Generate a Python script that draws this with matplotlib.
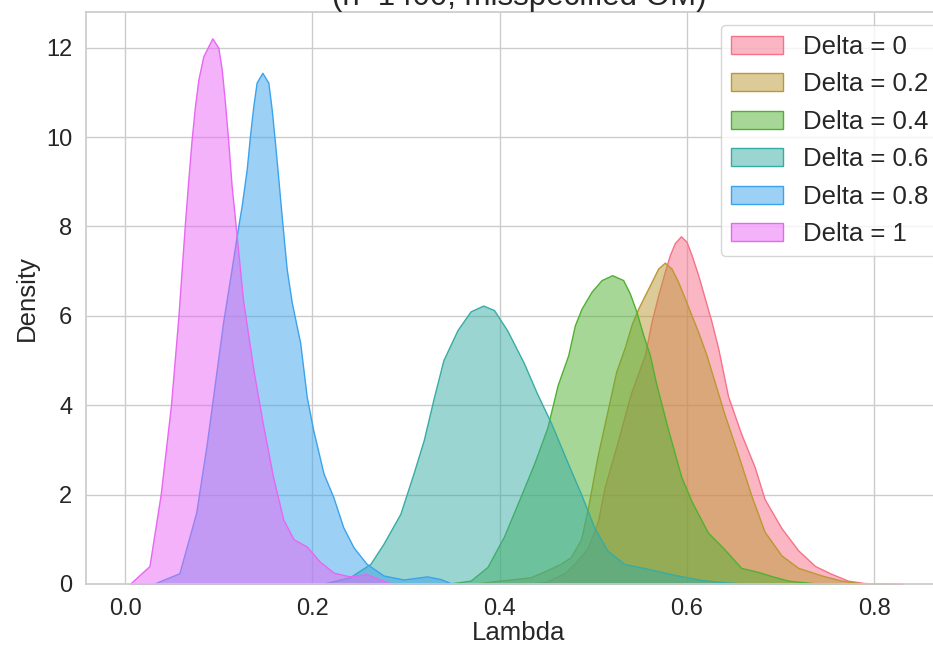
import matplotlib
matplotlib.use('Agg')
import matplotlib.pyplot as plt
from matplotlib.patches import Patch
import seaborn as sns

sns.set_theme(style='whitegrid')
plt.rcParams['font.family'] = ['Liberation Sans', 'DejaVu Sans']

# wartosci
delty = ['0', '0.2', '0.4', '0.6', '0.8', '1']

lam_d0 = [0.43, 0.45, 0.47, 0.48, 0.494, 0.505, 0.512, 0.525, 0.54, 0.5551, 0.5623,
          0.5694, 0.5765, 0.5818, 0.5872, 0.5936, 0.5996, 0.605, 0.6121, 0.6192, 0.6263,
          0.6335, 0.644, 0.658, 0.6725, 0.683, 0.701, 0.719, 0.737, 0.754, 0.772,
          0.79, 0.81, 0.83]
gest_d0 = [0, 0.05, 0.25, 0.45, 0.8, 1.4, 2.15, 3.1, 4.25, 5.12, 5.87,
           6.46, 6.99, 7.36, 7.63, 7.78, 7.66, 7.36, 6.91, 6.39, 5.87,
           5.27, 4.2, 3.36, 2.61, 1.9, 1.25, 0.75, 0.4, 0.23, 0.075,
           0.02, 0.01, 0]

lam_d02 = [0.37, 0.386, 0.40, 0.416, 0.433, 0.45, 0.465, 0.476, 0.487, 0.4945, 0.5045,
           0.515, 0.5245, 0.5338, 0.5409, 0.548, 0.5551, 0.5623, 0.5694, 0.5765, 0.5836,
           0.5907, 0.5979, 0.605, 0.6121, 0.621, 0.630, 0.640, 0.6545, 0.669, 0.683,
           0.701, 0.719, 0.744, 0.765, 0.786, 0.81]
gest_d02 = [0, 0.04, 0.075, 0.11, 0.15, 0.3, 0.45, 0.6, 1.0, 1.72, 2.85,
            3.85, 4.75, 5.3, 5.8, 6.16, 6.46, 6.76, 7.06, 7.19, 7.06,
            6.76, 6.39, 6.01, 5.64, 5.12, 4.5, 3.81, 2.91, 1.97, 1.17,
            0.64, 0.36, 0.19, 0.075, 0.015, 0]

lam_d04 = [0.33, 0.35, 0.369, 0.387, 0.4046, 0.4225, 0.437, 0.451, 0.462, 0.4733, 0.4804,
           0.4875, 0.4982, 0.5089, 0.5203, 0.532, 0.5391, 0.5462, 0.5534, 0.5605, 0.567,
           0.580, 0.594, 0.605, 0.6225, 0.640, 0.658, 0.676, 0.690, 0.708, 0.7365, 0.76]
gest_d04 = [0, 0.02, 0.075, 0.38, 1.06, 1.96, 2.7, 3.5, 4.45, 5.12, 5.79,
            6.16, 6.54, 6.80, 6.91, 6.80, 6.50, 6.09, 5.57, 5.12, 4.5,
            3.45, 2.4, 1.85, 1.15, 0.78, 0.36, 0.27, 0.18, 0.075, 0.015, 0]

lam_d06 = [0.21, 0.24, 0.262, 0.276, 0.294, 0.308, 0.319, 0.330, 0.340, 0.355, 0.369,
           0.3825, 0.394, 0.408, 0.426, 0.440, 0.455, 0.4725, 0.487, 0.501, 0.515,
           0.533, 0.558, 0.583, 0.60, 0.615, 0.633, 0.66, 0.68]
gest_d06 = [0, 0.15, 0.45, 0.9, 1.57, 2.47, 3.22, 4.19, 5.01, 5.68, 6.10,
            6.23, 6.13, 5.68, 4.94, 4.26, 3.6, 2.72, 2.01, 1.27, 0.75,
            0.45, 0.34, 0.22, 0.15, 0.09, 0.05, 0.01, 0]

lam_d08 = [0.03, 0.058, 0.076, 0.087, 0.096, 0.105, 0.1138, 0.1192, 0.1245, 0.1299, 0.1334,
           0.137, 0.1405, 0.1466, 0.153, 0.1566, 0.1601, 0.1637, 0.1672, 0.1726, 0.178,
           0.187, 0.194, 0.201, 0.212, 0.2225, 0.233, 0.244, 0.258, 0.276, 0.2975,
           0.3225, 0.337, 0.3475, 0.36]
gest_d08 = [0, 0.24, 1.6, 3.1, 4.5, 5.9, 7.05, 7.79, 8.46, 9.28, 10.03,
            10.70, 11.22, 11.44, 11.22, 10.62, 9.88, 9.06, 8.24, 7.05, 6.3,
            5.4, 4.19, 3.44, 2.47, 1.94, 1.27, 0.82, 0.45, 0.19, 0.10,
            0.17, 0.11, 0.02, 0]

lam_d1 = [0.005, 0.026, 0.038, 0.049, 0.057, 0.0605, 0.064, 0.0676, 0.0711, 0.0747, 0.0783,
          0.0836, 0.0932, 0.0996, 0.1032, 0.1067, 0.1103, 0.1138, 0.1185, 0.1227, 0.126,
          0.137, 0.147, 0.158, 0.169, 0.180, 0.194, 0.208, 0.223, 0.240, 0.258,
          0.270, 0.285]
gest_d1 = [0, 0.4, 2.0, 4.0, 6.0, 7.05, 8.09, 9.06, 9.95, 10.70, 11.29,
           11.81, 12.21, 12.0, 11.52, 10.77, 9.88, 8.91, 7.94, 7.05, 6.35,
           4.8, 3.6, 2.4, 1.44, 1.0, 0.84, 0.5, 0.25, 0.17, 0.22,
           0.12, 0]

krzywe = [(lam_d0, gest_d0), (lam_d02, gest_d02), (lam_d04, gest_d04),
          (lam_d06, gest_d06), (lam_d08, gest_d08), (lam_d1, gest_d1)]
kolory = sns.color_palette('husl', 6)

fig = plt.figure(figsize=(9.33, 6.48), dpi=100)
# prawa krawedz osi wychodzi poza obrazek (jak w oryginale)
ax = fig.add_axes([0.0922, 0.0988, 0.928, 0.8827])

uchwyty = []
for (x, y), kol, d in zip(krzywe, kolory, delty):
    ax.fill_between(x, y, facecolor=(*kol, 0.5), edgecolor=kol, linewidth=1)
    uchwyty.append(Patch(facecolor=(*kol, 0.5), edgecolor=kol, label=f'Delta = {d}'))

ax.set_xlim(-0.0417, 0.883)
ax.set_ylim(0, 12.8)
ax.set_xticks([0.0, 0.2, 0.4, 0.6, 0.8])
ax.set_yticks([0, 2, 4, 6, 8, 10, 12])
ax.tick_params(labelsize=17, pad=10, length=0)
ax.set_xlabel('Lambda', fontsize=18.5, labelpad=1)
ax.set_ylabel('Density', fontsize=18.5, labelpad=5)
ax.set_title('(n=1400, misspecified OM)', fontsize=22.5, pad=5)

ax.legend(handles=uchwyty, loc='upper right', fontsize=18.5, labelspacing=0.52)

fig.savefig('out.png', dpi=100)
